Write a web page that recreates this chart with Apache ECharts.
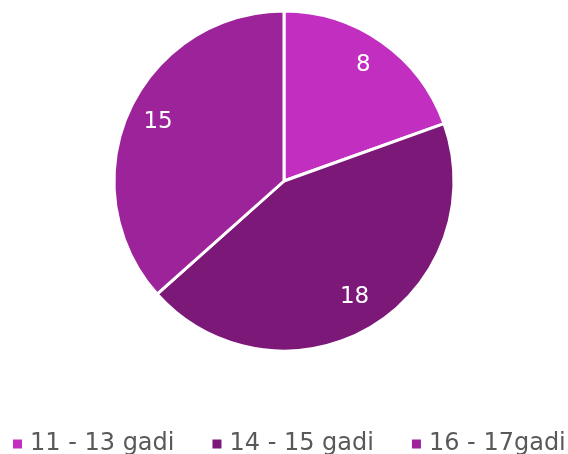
<!DOCTYPE html>
<html><head><meta charset="utf-8">
<script src="https://cdn.jsdelivr.net/npm/echarts@6/dist/echarts.min.js"></script>
<style>html,body{margin:0;padding:0;background:#fff}#c{width:568px;height:454px}</style>
</head><body><div id="c"></div>
<script>
const categories = ['11 - 13 gadi', '14 - 15 gadi', '16 - 17gadi'];
const values = [8, 18, 15];
const colors = ['#C22EC0', '#7B1878', '#9C239A'];

const chart = echarts.init(document.getElementById('c'));
const data = categories.map((c, i) => ({ name: c, value: values[i], itemStyle: { color: colors[i] } }));
chart.setOption({
  animation: false,
  legend: {
    bottom: -2, left: 13, width: 800, padding: 0,
    icon: 'rect', itemWidth: 9, itemHeight: 9, itemGap: 38,
    itemStyle: { borderWidth: 0 },
    textStyle: { fontFamily: 'DejaVu Sans', fontSize: 24, color: '#595959', padding: [0, 0, 0, 3] },
    data: categories
  },
  series: [{
    type: 'pie',
    center: [284, 181], radius: 170,
    startAngle: 90, clockwise: true,
    label: { show: false },
    labelLine: { show: false },
    itemStyle: { borderColor: '#fff', borderWidth: 3 },
    emphasis: { disabled: true },
    data: data
  }, {
    type: 'pie',
    center: [284, 178], radius: [98, 172],
    startAngle: 90, clockwise: true, silent: true,
    legendHoverLink: false,
    itemStyle: { color: 'transparent', borderWidth: 0 },
    label: { show: true, position: 'inside', formatter: '{c}', color: '#fff', fontFamily: 'DejaVu Sans', fontSize: 23 },
    labelLine: { show: false },
    emphasis: { disabled: true },
    data: categories.map((c, i) => ({ name: c + ' ', value: values[i] }))
  }]
});
</script></body></html>
